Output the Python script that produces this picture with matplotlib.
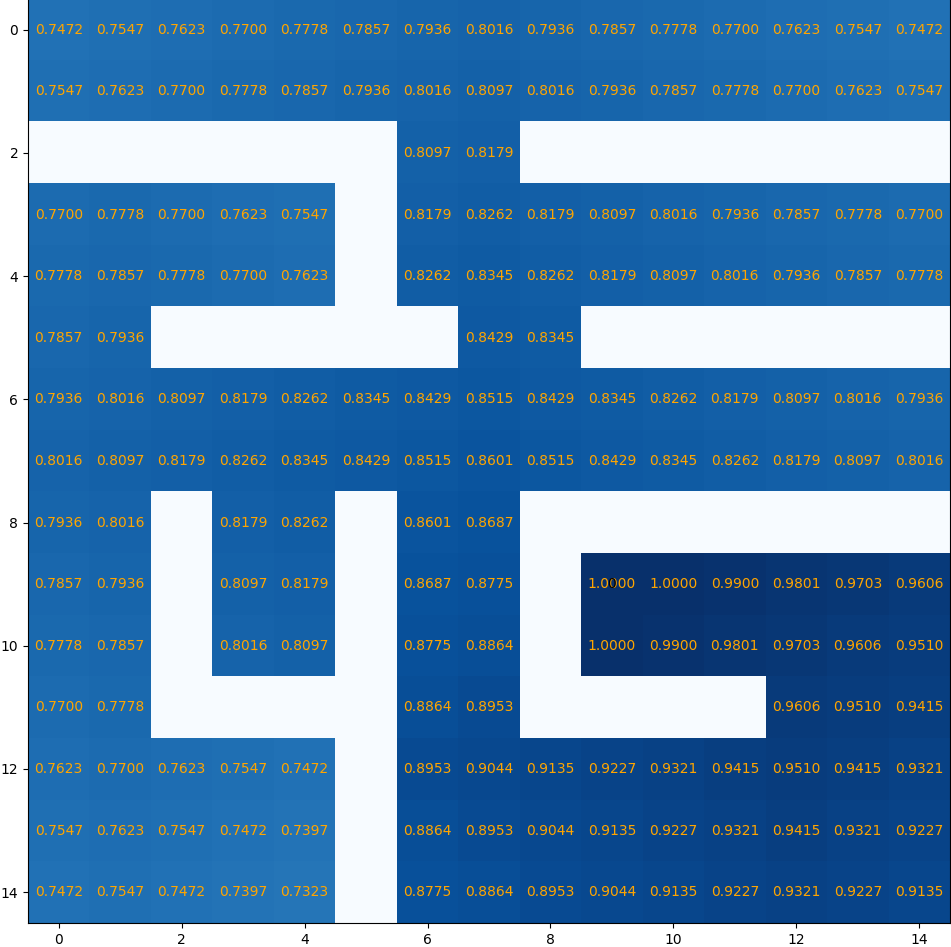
import numpy as np
import matplotlib
matplotlib.use("Agg")
import matplotlib.pyplot as plt

# state values of the maze, 0.0 = wall (no label)
values = [
    [0.7472, 0.7547, 0.7623, 0.7700, 0.7778, 0.7857, 0.7936, 0.8016, 0.7936, 0.7857, 0.7778, 0.7700, 0.7623, 0.7547, 0.7472],
    [0.7547, 0.7623, 0.7700, 0.7778, 0.7857, 0.7936, 0.8016, 0.8097, 0.8016, 0.7936, 0.7857, 0.7778, 0.7700, 0.7623, 0.7547],
    [0, 0, 0, 0, 0, 0, 0.8097, 0.8179, 0, 0, 0, 0, 0, 0, 0],
    [0.7700, 0.7778, 0.7700, 0.7623, 0.7547, 0, 0.8179, 0.8262, 0.8179, 0.8097, 0.8016, 0.7936, 0.7857, 0.7778, 0.7700],
    [0.7778, 0.7857, 0.7778, 0.7700, 0.7623, 0, 0.8262, 0.8345, 0.8262, 0.8179, 0.8097, 0.8016, 0.7936, 0.7857, 0.7778],
    [0.7857, 0.7936, 0, 0, 0, 0, 0, 0.8429, 0.8345, 0, 0, 0, 0, 0, 0],
    [0.7936, 0.8016, 0.8097, 0.8179, 0.8262, 0.8345, 0.8429, 0.8515, 0.8429, 0.8345, 0.8262, 0.8179, 0.8097, 0.8016, 0.7936],
    [0.8016, 0.8097, 0.8179, 0.8262, 0.8345, 0.8429, 0.8515, 0.8601, 0.8515, 0.8429, 0.8345, 0.8262, 0.8179, 0.8097, 0.8016],
    [0.7936, 0.8016, 0, 0.8179, 0.8262, 0, 0.8601, 0.8687, 0, 0, 0, 0, 0, 0, 0],
    [0.7857, 0.7936, 0, 0.8097, 0.8179, 0, 0.8687, 0.8775, 0, 1.0000, 1.0000, 0.9900, 0.9801, 0.9703, 0.9606],
    [0.7778, 0.7857, 0, 0.8016, 0.8097, 0, 0.8775, 0.8864, 0, 1.0000, 0.9900, 0.9801, 0.9703, 0.9606, 0.9510],
    [0.7700, 0.7778, 0, 0, 0, 0, 0.8864, 0.8953, 0, 0, 0, 0, 0.9606, 0.9510, 0.9415],
    [0.7623, 0.7700, 0.7623, 0.7547, 0.7472, 0, 0.8953, 0.9044, 0.9135, 0.9227, 0.9321, 0.9415, 0.9510, 0.9415, 0.9321],
    [0.7547, 0.7623, 0.7547, 0.7472, 0.7397, 0, 0.8864, 0.8953, 0.9044, 0.9135, 0.9227, 0.9321, 0.9415, 0.9321, 0.9227],
    [0.7472, 0.7547, 0.7472, 0.7397, 0.7323, 0, 0.8775, 0.8864, 0.8953, 0.9044, 0.9135, 0.9227, 0.9321, 0.9227, 0.9135],
]
goal = (9, 9)  # row, col

V = np.array(values)

fig = plt.figure(figsize=(9.51, 9.47), dpi=100)
ax = fig.add_axes([28 / 951, 24 / 947, 922 / 951, 924 / 947])
ax.imshow(V, cmap='Blues', vmin=0, vmax=1, aspect='auto')

for i in range(V.shape[0]):
    for j in range(V.shape[1]):
        if V[i, j] > 0:
            ax.text(j, i, f'{V[i, j]:.4f}', ha='center', va='center', color='orange', fontsize=10)

ax.text(goal[1], goal[0], '0', ha='center', va='center', color='black', fontsize=10)

ax.set_xticks(range(0, 15, 2))
ax.set_yticks(range(0, 15, 2))

fig.savefig('out.png', dpi=100)
